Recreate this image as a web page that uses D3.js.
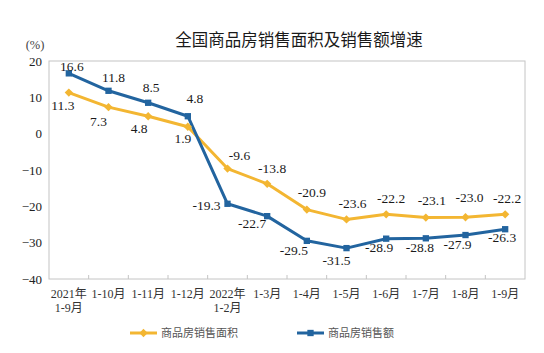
<!DOCTYPE html>
<html>
<head>
<meta charset="utf-8">
<script src="https://cdn.jsdelivr.net/npm/d3@7"></script>
<style>
  body { margin: 0; background: #fff; }
  svg { display: block; }
</style>
</head>
<body>
<div id="chart"></div>
<script>
var width = 544, height = 353
var margin = {top: 61, right: 19, bottom: 74, left: 49}

// categories (second line after \n)
var categories = ['2021年\n1-9月', '1-10月', '1-11月', '1-12月', '2022年\n1-2月', '1-3月',
  '1-4月', '1-5月', '1-6月', '1-7月', '1-8月', '1-9月']
// 商品房销售面积 growth (%)
var areaValues = [11.3, 7.3, 4.8, 1.9, -9.6, -13.8, -20.9, -23.6, -22.2, -23.1, -23.0, -22.2]
// 商品房销售额 growth (%)
var amountValues = [16.6, 11.8, 8.5, 4.8, -19.3, -22.7, -29.5, -31.5, -28.9, -28.8, -27.9, -26.3]
var yTicks = [-40, -30, -20, -10, 0, 10, 20]
var seriesNames = ['商品房销售面积', '商品房销售额']

// label placement (dx, dy from the point)
var areaLabelOffset = [[-6, 17], [-10, 19], [-9, 17], [-5, 16], [12, -9], [5, -11],
  [5, -13], [6, -11], [5, -11], [6, -13], [4, -15], [2, -11]]
var amountLabelOffset = [[3, -2], [5, -9], [3, -11], [7, -13], [-21, 6], [-15, 12],
  [-13, 14], [-10, 17], [-7, 13], [-6, 14], [-8, 14], [-3, 13]]

var yellow = '#f3b632', blue = '#22649f'
var serif = '"Liberation Serif", "Times New Roman", "Noto Sans CJK SC", serif'
var cjk = '"Liberation Serif", "Noto Sans CJK SC", serif'

var svg = d3.select('#chart').append('svg')
  .attr('width', width)
  .attr('height', height)

var xScale = d3.scaleBand()
  .domain(categories)
  .range([margin.left, width - margin.right])
  .padding(0)

var yScale = d3.scaleLinear()
  .domain([-40, 20])
  .range([height - margin.bottom, margin.top])

var cx = d => xScale(d) + xScale.bandwidth() / 2

// title
svg.append('text')
  .attr('x', 299)
  .attr('y', 46)
  .attr('text-anchor', 'middle')
  .style('font-family', '"Noto Sans CJK SC", sans-serif')
  .style('font-size', '16.5px')
  .style('fill', '#1a1a1a')
  .text('全国商品房销售面积及销售额增速')

svg.append('text')
  .attr('x', 35)
  .attr('y', 49)
  .attr('text-anchor', 'middle')
  .style('font-family', cjk)
  .style('font-size', '12.5px')
  .style('fill', '#444')
  .text('(%)')

// frame
svg.append('rect')
  .attr('x', margin.left)
  .attr('y', margin.top)
  .attr('width', width - margin.left - margin.right)
  .attr('height', height - margin.top - margin.bottom)
  .attr('fill', 'none')
  .attr('stroke', '#c4c4c4')
  .attr('stroke-width', 1)

// Y axis
var yAxis = d3.axisLeft(yScale)
  .tickValues(yTicks)
  .tickSize(0)
  .tickPadding(7)

svg.append('g')
  .attr('transform', `translate(${margin.left},0)`)
  .call(yAxis)
  .call(g => g.select('.domain').remove())
  .selectAll('text')
  .style('font-family', serif)
  .style('font-size', '13px')
  .style('fill', '#222')

// X axis ticks between categories (pointing up)
svg.append('g')
  .selectAll('line')
  .data(categories.slice(1))
  .enter()
  .append('line')
  .attr('x1', d => xScale(d))
  .attr('x2', d => xScale(d))
  .attr('y1', height - margin.bottom)
  .attr('y2', height - margin.bottom - 4)
  .attr('stroke', '#c4c4c4')

var xLabels = svg.append('g')
  .selectAll('text')
  .data(categories)
  .enter()
  .append('text')
  .attr('x', d => cx(d))
  .attr('y', 298)
  .attr('text-anchor', 'middle')
  .style('font-family', cjk)
  .style('font-size', '12px')
  .style('fill', '#333')

xLabels.selectAll('tspan')
  .data(d => d.split('\n'))
  .enter()
  .append('tspan')
  .attr('x', function() { return d3.select(this.parentNode).attr('x') })
  .attr('dy', (d, i) => i === 0 ? 0 : 14)
  .text(d => d)

// lines
var line = d3.line()
  .x((d, i) => cx(categories[i]))
  .y(d => yScale(d))

svg.append('path')
  .attr('d', line(areaValues))
  .attr('fill', 'none')
  .attr('stroke', yellow)
  .attr('stroke-width', 3)
  .attr('stroke-linejoin', 'round')

svg.append('path')
  .attr('d', line(amountValues))
  .attr('fill', 'none')
  .attr('stroke', blue)
  .attr('stroke-width', 3)
  .attr('stroke-linejoin', 'round')

var diamond = d3.symbol().type(d3.symbolDiamond2).size(44)
var square = d3.symbol().type(d3.symbolSquare).size(40)

svg.append('g')
  .selectAll('path')
  .data(areaValues)
  .enter()
  .append('path')
  .attr('d', diamond)
  .attr('transform', (d, i) => `translate(${cx(categories[i])},${yScale(d)})`)
  .attr('fill', yellow)

svg.append('g')
  .selectAll('path')
  .data(amountValues)
  .enter()
  .append('path')
  .attr('d', square)
  .attr('transform', (d, i) => `translate(${cx(categories[i])},${yScale(d)})`)
  .attr('fill', blue)

// data labels
function labels(values, offsets) {
  svg.append('g')
    .selectAll('text')
    .data(values)
    .enter()
    .append('text')
    .attr('x', (d, i) => cx(categories[i]) + offsets[i][0])
    .attr('y', (d, i) => yScale(d) + offsets[i][1])
    .attr('text-anchor', 'middle')
    .style('font-family', serif)
    .style('font-size', '13.5px')
    .style('fill', '#1a1a1a')
    .text(d => d.toFixed(1))
}
labels(areaValues, areaLabelOffset)
labels(amountValues, amountLabelOffset)

// legend
var legend = [
  {name: seriesNames[0], color: yellow, sym: diamond, x: 130},
  {name: seriesNames[1], color: blue, sym: square, x: 297}
]
var lg = svg.append('g')
  .selectAll('g')
  .data(legend)
  .enter()
  .append('g')
  .attr('transform', d => `translate(${d.x},333)`)

lg.append('line')
  .attr('x1', 0)
  .attr('x2', 27)
  .attr('stroke', d => d.color)
  .attr('stroke-width', 3)

lg.append('path')
  .attr('d', d => d.sym())
  .attr('transform', 'translate(13.5,0)')
  .attr('fill', d => d.color)

lg.append('text')
  .attr('x', 31)
  .attr('y', 4)
  .style('font-family', cjk)
  .style('font-size', '11px')
  .style('fill', '#555')
  .text(d => d.name)
</script>
</body>
</html>
